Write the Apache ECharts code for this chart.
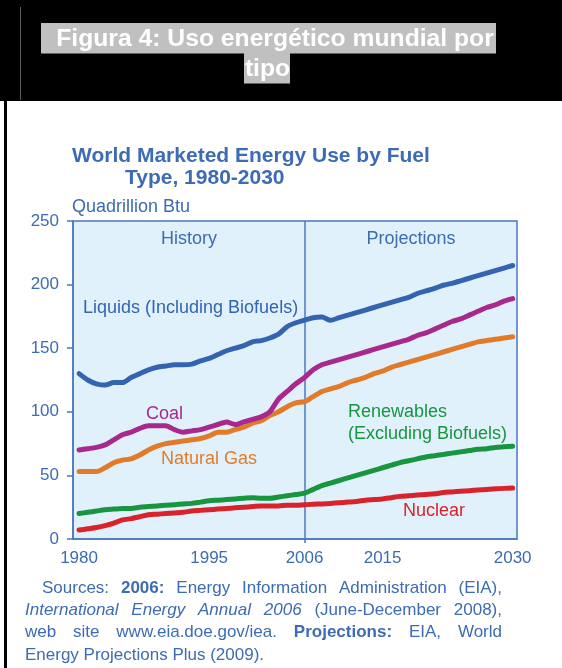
<!DOCTYPE html>
<html>
<head>
<meta charset="utf-8">
<script src="https://cdn.jsdelivr.net/npm/echarts@6/dist/echarts.min.js"></script>
<style>
  html, body { margin: 0; padding: 0; background: #ffffff; }
  #chart { width: 562px; height: 668px; }
</style>
</head>
<body>
<div id="chart"></div>
<script>
// World marketed energy use by fuel type, quadrillion Btu, 1980-2030
const years = [
  1980, 1981, 1982, 1983, 1984, 1985, 1986, 1987, 1988, 1989,
  1990, 1991, 1992, 1993, 1994, 1995, 1996, 1997, 1998, 1999,
  2000, 2001, 2002, 2003, 2004, 2005, 2006, 2007, 2008, 2009,
  2010, 2011, 2012, 2013, 2014, 2015, 2016, 2017, 2018, 2019,
  2020, 2021, 2022, 2023, 2024, 2025, 2026, 2027, 2028, 2029, 2030
];
const liquids = [
  130, 125, 122, 121, 123, 123, 127, 130, 133, 135,
  136, 137, 137, 137.5, 140, 142, 145, 148, 150, 152,
  155, 156, 158, 161, 167, 170, 172, 174, 174.5, 172,
  174, 176, 178, 180, 182, 184, 186, 188, 190, 193,
  195, 197, 199.5, 201, 203, 205, 207, 209, 211, 213, 215
];
const coal = [
  70, 71, 72, 74, 78, 82, 84, 87, 89, 89,
  89, 86, 84, 85, 86, 88, 90, 92, 90, 92,
  94, 96, 100, 110, 116, 122, 127, 133, 137, 139,
  141, 143, 145, 147, 149, 151, 153, 155, 157, 160,
  162, 165, 168, 171, 173, 176, 179, 182, 184, 187, 189
];
const naturalGas = [
  53, 53, 53, 56, 60, 62, 63, 66, 70, 73,
  75, 76, 77, 78, 79, 81, 84, 84, 86, 88,
  91, 93, 97, 100, 104, 107, 108, 112, 116, 118,
  120, 123, 125, 127, 130, 132, 135, 137, 139, 141,
  143, 145, 147, 149, 151, 153, 155, 156, 157, 158, 159
];
const renewables = [
  20, 21, 22, 23, 23.5, 24, 24, 25, 25.5, 26,
  26.5, 27, 27.5, 28, 29, 30, 30.5, 31, 31.5, 32,
  32.5, 32, 32, 33, 34, 35, 36, 39, 42, 44,
  46, 48, 50, 52, 54, 56, 58, 60, 61.5, 63,
  64.5, 65.5, 66.5, 67.5, 68.5, 69.5, 70.5, 71, 72, 72.5, 73
];
const nuclear = [
  7, 8, 9, 10.5, 12.5, 15, 16, 17.5, 19, 19.5,
  20, 20.5, 21, 22, 22.5, 23, 23.5, 24, 24.5, 25,
  25.5, 26, 26, 26, 26.5, 26.5, 27, 27.3, 27.6, 28,
  28.5, 29, 29.5, 30.5, 31, 31.5, 32.5, 33.5, 34, 34.5,
  35, 35.5, 36.5, 37, 37.5, 38, 38.5, 39, 39.5, 39.8, 40
];
const yearLabels = [1980, 1995, 2006, 2015, 2030];
const dividerYear = 2006;
const seriesNames = ['Liquids', 'Coal', 'Natural Gas', 'Renewables', 'Nuclear'];

const FONT = '"Liberation Sans", Arial, Helvetica, sans-serif';
const BLUE = '#3d6bb4';
const AXIS_BLUE = '#4a77c0';
const COLORS = {
  liquids: '#3464b0',
  coal: '#a7298e',
  gas: '#e27b29',
  renew: '#17953f',
  nuclear: '#d8222c'
};

function pairs(values) {
  return years.map((y, i) => [y, values[i]]);
}

function lineSeries(name, values, color, extra) {
  return Object.assign({
    name: name,
    type: 'line',
    data: pairs(values),
    showSymbol: false,
    smooth: 0.25,
    lineStyle: { color: color, width: 5, cap: 'round', join: 'round' },
    itemStyle: { color: color },
    silent: true,
    z: 3
  }, extra || {});
}

// Justified source note below the chart, word by word
const measureCtx = document.createElement('canvas').getContext('2d');
function fontOf(style, size) {
  return (style === 'i' ? 'italic ' : '') + (style === 'b' ? 'bold ' : '') + size + 'px ' + FONT;
}
function textWidth(text, style, size) {
  measureCtx.font = fontOf(style, size);
  return measureCtx.measureText(text).width;
}

const sourceLines = [
  { left: 42, justify: true, words: [['Sources:', 'n'], ['2006:', 'b'], ['Energy', 'n'], ['Information', 'n'], ['Administration', 'n'], ['(EIA),', 'n']] },
  { left: 25, justify: true, words: [['International', 'i'], ['Energy', 'i'], ['Annual', 'i'], ['2006', 'i'], ['(June-December', 'n'], ['2008),', 'n']] },
  { left: 25, justify: true, words: [['web', 'n'], ['site', 'n'], ['www.eia.doe.gov/iea.', 'n'], ['Projections:', 'b'], ['EIA,', 'n'], ['World', 'n']] },
  { left: 25, justify: false, words: [['Energy', 'n'], ['Projections', 'n'], ['Plus', 'n'], ['(2009).', 'n']] }
];

function sourceGraphics() {
  const size = 17;
  const right = 502;
  const lineY = [588, 610, 632, 655];
  const out = [];
  sourceLines.forEach((line, li) => {
    const widths = line.words.map(w => textWidth(w[0], w[1], size));
    const total = widths.reduce((a, b) => a + b, 0);
    const gap = line.justify
      ? (right - line.left - total) / (line.words.length - 1)
      : textWidth(' ', 'n', size);
    let x = line.left;
    line.words.forEach((w, wi) => {
      out.push({
        type: 'text',
        x: x,
        y: lineY[li],
        z: 5,
        silent: true,
        style: {
          text: w[0],
          font: fontOf(w[1], size),
          fill: BLUE,
          textAlign: 'left',
          textVerticalAlign: 'middle'
        }
      });
      x += widths[wi] + gap;
    });
  });
  return out;
}

function label(text, x, y, color, size, weight) {
  return {
    type: 'text',
    x: x,
    y: y,
    z: 5,
    silent: true,
    style: {
      text: text,
      font: (weight || 'normal') + ' ' + (size || 18) + 'px ' + FONT,
      fill: color,
      textAlign: 'left',
      textVerticalAlign: 'middle'
    }
  };
}
function centered(text, x, y, color, size, weight) {
  const el = label(text, x, y, color, size, weight);
  el.style.textAlign = 'center';
  return el;
}

const graphics = [
  // black header band with highlighted caption
  { type: 'rect', shape: { x: 0, y: 0, width: 562, height: 101 }, style: { fill: '#000000' }, silent: true, z: 0 },
  { type: 'line', shape: { x1: 20.5, y1: 7, x2: 20.5, y2: 100 }, style: { stroke: '#5a5a5a', lineWidth: 1 }, silent: true, z: 1 },
  { type: 'rect', shape: { x: 41, y: 23, width: 455, height: 30.5 }, style: { fill: '#c0c0c0' }, silent: true, z: 1 },
  { type: 'rect', shape: { x: 244, y: 53, width: 46, height: 30.5 }, style: { fill: '#c0c0c0' }, silent: true, z: 1 },
  centered('Figura 4: Uso energético mundial por', 275, 39, '#ffffff', 24.7, 'bold'),
  centered('tipo', 267.5, 69, '#ffffff', 24.7, 'bold'),
  // left frame rule of the page body
  { type: 'rect', shape: { x: 4, y: 101, width: 3, height: 567 }, style: { fill: '#000000' }, silent: true, z: 1 },

  // chart title and unit
  label('World Marketed Energy Use by Fuel', 72, 156, BLUE, 21, 'bold'),
  label('Type, 1980-2030', 125, 178, BLUE, 21, 'bold'),
  label('Quadrillion Btu', 72, 207, BLUE, 18),

  // period captions
  centered('History', 189, 239, BLUE, 18),
  centered('Projections', 411, 239, BLUE, 18),

  // series captions
  label('Liquids (Including Biofuels)', 83, 308, COLORS.liquids, 18),
  label('Coal', 146, 414, COLORS.coal, 18),
  label('Natural Gas', 161, 459, COLORS.gas, 18),
  label('Renewables', 348, 412, COLORS.renew, 18),
  label('(Excluding Biofuels)', 348, 434, COLORS.renew, 18),
  label('Nuclear', 403, 511, COLORS.nuclear, 18)
].concat(sourceGraphics());

const chart = echarts.init(document.getElementById('chart'), null, { renderer: 'canvas' });

chart.setOption({
  animation: false,
  backgroundColor: '#ffffff',
  textStyle: { fontFamily: FONT },
  grid: {
    left: 73, top: 221, width: 444, height: 318,
    show: true,
    backgroundColor: '#e1f1fb',
    borderColor: AXIS_BLUE,
    borderWidth: 1.5,
    containLabel: false,
    outerBoundsMode: 'none'
  },
  xAxis: {
    type: 'value',
    min: 1979.3,
    max: 2030.5,
    axisLine: { show: true, lineStyle: { color: AXIS_BLUE, width: 1.5 } },
    axisTick: { show: true, customValues: [dividerYear], length: 4, lineStyle: { color: AXIS_BLUE, width: 1.5 } },
    splitLine: { show: false },
    axisLabel: {
      customValues: yearLabels,
      formatter: v => String(v),
      color: BLUE,
      fontSize: 17,
      fontFamily: FONT,
      margin: 11
    }
  },
  yAxis: {
    type: 'value',
    min: 0,
    max: 250,
    interval: 50,
    axisLine: { show: true, lineStyle: { color: AXIS_BLUE, width: 1.5 } },
    axisTick: { show: true, inside: false, length: 6, lineStyle: { color: AXIS_BLUE, width: 1.5 } },
    splitLine: { show: false },
    axisLabel: {
      color: BLUE,
      fontSize: 17,
      fontFamily: FONT,
      margin: 14
    }
  },
  series: [
    lineSeries(seriesNames[4], nuclear, COLORS.nuclear, {
      markLine: {
        silent: true,
        symbol: 'none',
        label: { show: false },
        lineStyle: { color: AXIS_BLUE, width: 1.5, type: 'solid' },
        data: [{ xAxis: dividerYear }],
        z: 2
      }
    }),
    lineSeries(seriesNames[3], renewables, COLORS.renew),
    lineSeries(seriesNames[2], naturalGas, COLORS.gas),
    lineSeries(seriesNames[1], coal, COLORS.coal),
    lineSeries(seriesNames[0], liquids, COLORS.liquids)
  ],
  graphic: { elements: graphics }
});
</script>
</body>
</html>
